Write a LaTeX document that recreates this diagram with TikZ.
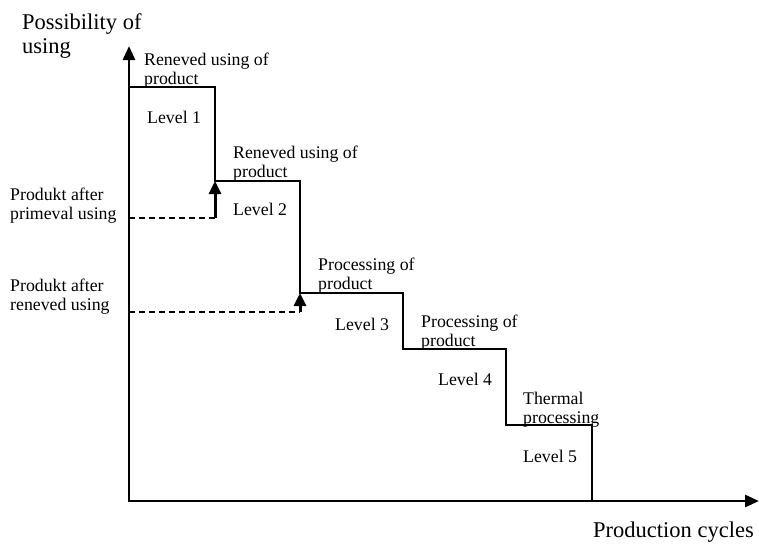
\documentclass[tikz,border=0pt]{standalone}
\usepackage{fontspec}
\setmainfont{Liberation Serif}
\usetikzlibrary{arrows.meta}

\begin{document}
\begin{tikzpicture}[x=1pt,y=-1pt,
  lbl/.style={anchor=base west, inner sep=0pt, align=left, font=\fontsize{17.8}{18.5}\selectfont},
  biglbl/.style={anchor=base west, inner sep=0pt, align=left, font=\fontsize{22.5}{24}\selectfont},
  axis/.style={line width=2.8pt, line cap=rect, -{Triangle[length=14pt,width=12pt]}},
  stair/.style={line width=1.5pt},
  guide/.style={line width=2.5pt, dash pattern=on 6pt off 4pt},
  lift/.style={line width=3pt, -{Triangle[length=13pt,width=12pt]}}]
  \useasboundingbox (0,0) rectangle (759,544);
  % Axes
  \coordinate (O) at (129,501);
  \coordinate (ytop) at (129,46);
  \coordinate (xend) at (759,501);
  \draw[axis] (O) -- (ytop);
  \draw[axis] (O) -- (xend);
  \node[biglbl] (ylab) at (22,53) {Possibility of\\using};
  \node[biglbl] (xlab) at (593,537) {Production cycles};
  % Stairs
  \coordinate (s1) at (129,87);
  \coordinate (s2) at (215,87);
  \coordinate (s3) at (215,181);
  \coordinate (s4) at (300,181);
  \coordinate (s5) at (300,293);
  \coordinate (s6) at (403,293);
  \coordinate (s7) at (403,349);
  \coordinate (s8) at (506,349);
  \coordinate (s9) at (506,425);
  \coordinate (s10) at (592,425);
  \coordinate (s11) at (592,501);
  \draw[stair] (s1) -- (s2) -- (s3) -- (s4) -- (s5) -- (s6) -- (s7) -- (s8) -- (s9) -- (s10) -- (s11);
  % Step labels
  \node[lbl] (use1) at (144,84) {Reneved using of\\product};
  \node[lbl] (lev1) at (147,123) {Level 1};
  \node[lbl] (use2) at (233,177) {Reneved using of\\product};
  \node[lbl] (lev2) at (233,215) {Level 2};
  \node[lbl] (proc1) at (318,289) {Processing of\\product};
  \node[lbl] (lev3) at (335,330) {Level 3};
  \node[lbl] (proc2) at (421,346) {Processing of\\product};
  \node[lbl] (lev4) at (438,385) {Level 4};
  \node[lbl] (therm) at (523,423) {Thermal\\processing};
  \node[lbl] (lev5) at (523,462) {Level 5};
  % Products after using
  \node[lbl] (prim) at (10,219) {Produkt after\\primeval using};
  \node[lbl] (ren) at (10,310) {Produkt after\\reneved using};
  \coordinate (d1) at (129,218);
  \coordinate (d2) at (215,218);
  \coordinate (e1) at (129,312);
  \coordinate (e2) at (300,312);
  \draw[guide] (d1) -- (d2);
  \draw[lift] (d2) -- (s3);
  \draw[guide] (e1) -- (e2);
  \draw[lift] (e2) -- (s5);
\end{tikzpicture}
\end{document}
